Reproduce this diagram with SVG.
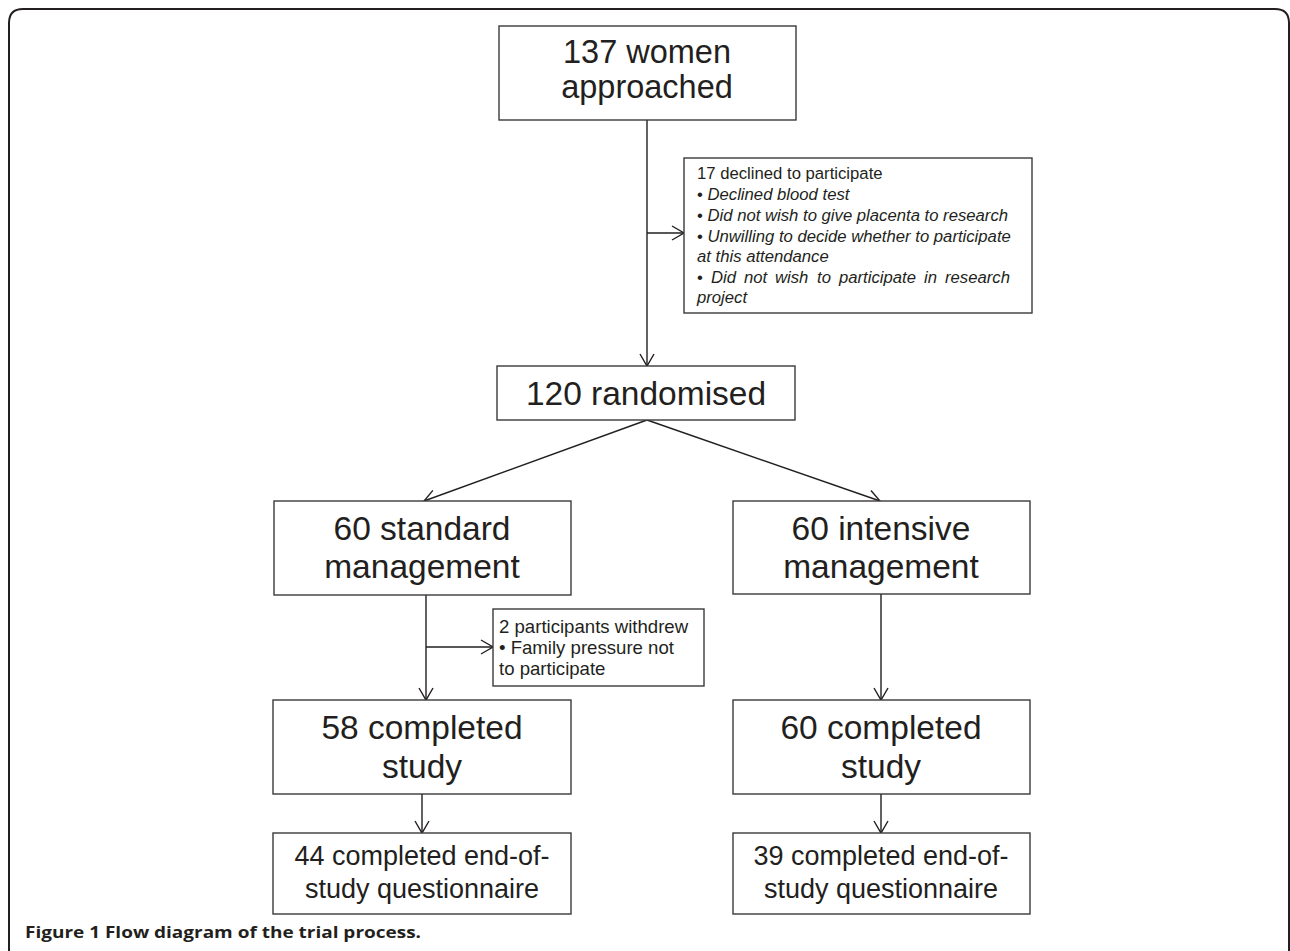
<svg xmlns="http://www.w3.org/2000/svg" width="1290" height="951" viewBox="0 0 1290 951">
<style>
.box{fill:#fff;stroke:#3a3a3a;stroke-width:1.4}
.big{font-family:"Liberation Sans",Arial,sans-serif;font-size:33.5px;fill:#231f20;text-anchor:middle}
.top{font-size:32.5px}
.mid{font-family:"Liberation Sans",Arial,sans-serif;font-size:27px;fill:#231f20;text-anchor:middle}
.sm{font-family:"Liberation Sans",Arial,sans-serif;font-size:16.7px;fill:#231f20}
.sm2{font-family:"Liberation Sans",Arial,sans-serif;font-size:18.6px;fill:#231f20}
.it{font-style:italic}
.ln{fill:none;stroke:#231f20;stroke-width:1.4}
.cap{font-family:"Open Sans","Liberation Sans",sans-serif;font-weight:bold;font-size:16.5px;fill:#231f20}
</style>
<defs>
<marker id="arr" markerUnits="userSpaceOnUse" markerWidth="16" markerHeight="18" viewBox="-14 -9 16 18" refX="0" refY="0" orient="auto">
<path d="M-12,-7 L0,0 L-12,7" fill="none" stroke="#231f20" stroke-width="1.4"/>
</marker>
</defs>
<rect width="1290" height="951" fill="#fff"/>
<path d="M9,951 V23 Q9,9 23,9 H1275 Q1289,9 1289,23 V951" fill="none" stroke="#231f20" stroke-width="2"/>
<g id="connectors">
<line class="ln" x1="647" y1="120" x2="647" y2="366" marker-end="url(#arr)"/>
<line class="ln" x1="647" y1="233" x2="684" y2="233" marker-end="url(#arr)"/>
<line class="ln" x1="647" y1="420" x2="424" y2="501" marker-end="url(#arr)"/>
<line class="ln" x1="647" y1="420" x2="880" y2="501" marker-end="url(#arr)"/>
<line class="ln" x1="426" y1="595" x2="426" y2="700" marker-end="url(#arr)"/>
<line class="ln" x1="426" y1="647" x2="493" y2="647" marker-end="url(#arr)"/>
<line class="ln" x1="422" y1="794" x2="422" y2="833" marker-end="url(#arr)"/>
<line class="ln" x1="881" y1="594" x2="881" y2="700" marker-end="url(#arr)"/>
<line class="ln" x1="881" y1="794" x2="881" y2="833" marker-end="url(#arr)"/>
</g>
<g id="approached">
<rect class="box" x="499" y="26" width="297" height="94"/>
<text class="big top" x="647" y="63">137 women</text>
<text class="big top" x="647" y="98">approached</text>
</g>
<g id="declined">
<rect class="box" x="684" y="158" width="348" height="155"/>
<text class="sm" x="697" y="179">17 declined to participate</text>
<text class="sm" x="697" y="200">• <tspan class="it">Declined blood test</tspan></text>
<text class="sm" x="697" y="221">• <tspan class="it">Did not wish to give placenta to research</tspan></text>
<text class="sm" x="697" y="242">• <tspan class="it">Unwilling to decide whether to participate</tspan></text>
<text class="sm it" x="697" y="262">at this attendance</text>
<text class="sm" y="283"><tspan x="697">•</tspan><tspan class="it" x="711">Did</tspan><tspan class="it" x="744">not</tspan><tspan class="it" x="775">wish</tspan><tspan class="it" x="817">to</tspan><tspan class="it" x="839">participate</tspan><tspan class="it" x="924">in</tspan><tspan class="it" x="945">research</tspan></text>
<text class="sm it" x="697" y="303">project</text>
</g>
<g id="randomised">
<rect class="box" x="497" y="366" width="298" height="54"/>
<text class="big" x="646" y="405">120 randomised</text>
</g>
<g id="standard">
<rect class="box" x="274" y="501" width="297" height="94"/>
<text class="big" x="422" y="540">60 standard</text>
<text class="big" x="422" y="578">management</text>
</g>
<g id="intensive">
<rect class="box" x="733" y="501" width="297" height="93"/>
<text class="big" x="881" y="540">60 intensive</text>
<text class="big" x="881" y="578">management</text>
</g>
<g id="withdrew">
<rect class="box" x="493" y="609" width="211" height="77"/>
<text class="sm2" x="499" y="633">2 participants withdrew</text>
<text class="sm2" x="499" y="654">• Family pressure not</text>
<text class="sm2" x="499" y="675">to participate</text>
</g>
<g id="completed-std">
<rect class="box" x="273" y="700" width="298" height="94"/>
<text class="big" x="422" y="739">58 completed</text>
<text class="big" x="422" y="778">study</text>
</g>
<g id="completed-int">
<rect class="box" x="733" y="700" width="297" height="94"/>
<text class="big" x="881" y="739">60 completed</text>
<text class="big" x="881" y="778">study</text>
</g>
<g id="questionnaire-std">
<rect class="box" x="273" y="833" width="298" height="81"/>
<text class="mid" x="422" y="865">44 completed end-of-</text>
<text class="mid" x="422" y="898">study questionnaire</text>
</g>
<g id="questionnaire-int">
<rect class="box" x="733" y="833" width="297" height="81"/>
<text class="mid" x="881" y="865">39 completed end-of-</text>
<text class="mid" x="881" y="898">study questionnaire</text>
</g>
<text class="cap" x="25" y="938" textLength="396" lengthAdjust="spacingAndGlyphs">Figure 1 Flow diagram of the trial process.</text>
</svg>
